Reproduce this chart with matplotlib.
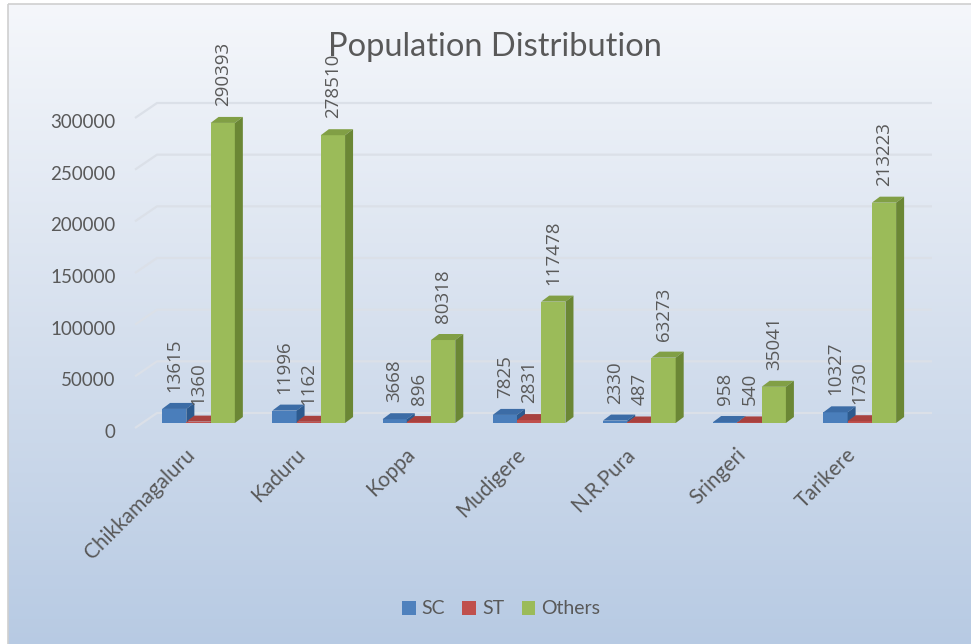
import numpy as np
import matplotlib
matplotlib.use("Agg")
import matplotlib.pyplot as plt
import matplotlib.transforms as mtransforms
from matplotlib.patches import Polygon, Rectangle
from matplotlib.colors import LinearSegmentedColormap

# ---------------------------------------------------------
# data
# ---------------------------------------------------------
taluks = ["Chikkamagaluru", "Kaduru", "Koppa", "Mudigere", "N.R.Pura", "Sringeri", "Tarikere"]
sc = [13615, 11996, 3668, 7825, 2330, 958, 10327]
st = [1360, 1162, 896, 2831, 487, 540, 1730]
others = [290393, 278510, 80318, 117478, 63273, 35041, 213223]
series_names = ["SC", "ST", "Others"]
y_ticks = [0, 50000, 100000, 150000, 200000, 250000, 300000]

# colours: front, top, side
front_cols = ["#4a7ebb", "#c0504d", "#9bbb59"]
top_cols = ["#3c6ca6", "#a8413e", "#819f45"]
side_cols = ["#2d5a8e", "#8c3431", "#6b8735"]
legend_cols = ["#4f81bd", "#c0504d", "#9bbb59"]
TXT = "#595959"

W, H = 971, 644
plt.rcParams['font.family'] = ['Lato', 'DejaVu Sans']

fig = plt.figure(figsize=(W / 100, H / 100), dpi=100)

# ---------------------------------------------------------
# background gradient + border
# ---------------------------------------------------------
bg = fig.add_axes([0, 0, 1, 1], zorder=-10)
bg.set_xlim(0, W)
bg.set_ylim(H, 0)
bg.axis('off')
cmap = LinearSegmentedColormap.from_list('bg', ['#f5f7fb', '#d6e0ee', '#b7cae3'])
grad = np.linspace(0, 1, 256).reshape(-1, 1)
bg.imshow(grad, aspect='auto', cmap=cmap, extent=[8, W + 5, H + 5, 4])
bg.add_patch(Rectangle((8, 4), W, H, fill=False, edgecolor='#cfcfcf', lw=1.2))

# ---------------------------------------------------------
# main axes (front plane)
# ---------------------------------------------------------
ax = fig.add_axes([135 / W, (H - 428) / H, 775 / W, 310 / H])
ax.set_xlim(-0.576, 6.456)
ax.set_ylim(0, 300000)
ax.patch.set_alpha(0)
for s in ax.spines.values():
    s.set_visible(False)

p0 = ax.transData.transform((0, 0))
p1 = ax.transData.transform((1, 100000))
sx = p1[0] - p0[0]
sy = (p1[1] - p0[1]) / 100000.0

x0, x1 = ax.get_xlim()

# back wall gridlines with side wall slant
wall_dx, wall_dy = 22 / sx, 15 / sy
for v in y_ticks:
    ax.plot([x0, x0 + wall_dx, x1 + wall_dx], [v, v + wall_dy, v + wall_dy],
            color='#dbe0e8', lw=1.6, zorder=1, clip_on=False, solid_capstyle='butt')

# bars (pseudo 3D)
bw = 0.22
lift = 5 / sy
ddx, ddy = 8 / sx, 6 / sy
series = [sc, st, others]
z = 2
for i in range(len(taluks)):
    for k, vals in enumerate(series):
        v = vals[i]
        xc = i + (k - 1) * bw
        xl, xr = xc - bw / 2, xc + bw / 2
        yb, yt = lift, lift + v
        ax.add_patch(Rectangle((xl, yb), bw, v, facecolor=front_cols[k],
                               edgecolor='none', zorder=z, clip_on=False))
        ax.add_patch(Polygon([(xl, yt), (xr, yt), (xr + ddx, yt + ddy), (xl + ddx, yt + ddy)],
                             closed=True, facecolor=top_cols[k], edgecolor='none',
                             zorder=z, clip_on=False))
        ax.add_patch(Polygon([(xr, yb), (xr, yt), (xr + ddx, yt + ddy), (xr + ddx, yb + ddy)],
                             closed=True, facecolor=side_cols[k], edgecolor='none',
                             zorder=z, clip_on=False))
        ax.text(xc, yt + 17 / sy, str(v), rotation=90, ha='center', va='bottom',
                fontsize=13.5, color=TXT, zorder=50, clip_on=False,
                family=['Open Sans', 'DejaVu Sans'])
        z += 1

# axes ticks
ax.set_yticks(y_ticks)
ax.set_yticklabels([str(v) for v in y_ticks])
ax.tick_params(axis='y', length=0, pad=14, labelsize=13.5, labelcolor=TXT)
down = mtransforms.ScaledTranslation(0, -3 / 100, fig.dpi_scale_trans)
for lab in ax.get_yticklabels():
    lab.set_transform(lab.get_transform() + down)

ax.set_xticks(range(len(taluks)))
ax.set_xticklabels(taluks, rotation=45, ha='right', va='center', rotation_mode='anchor')
ax.tick_params(axis='x', length=0, pad=17, labelsize=15, labelcolor=TXT)
left = mtransforms.ScaledTranslation(-7 / 100, 0, fig.dpi_scale_trans)
for lab in ax.get_xticklabels():
    lab.set_transform(lab.get_transform() + left)

# title
fig.text(495 / W, 1 - 47 / H, "Population Distribution", ha='center', va='center',
         fontsize=23.5, color=TXT)

# legend
handles = [Rectangle((0, 0), 1, 1, facecolor=c, edgecolor='none') for c in legend_cols]
fig.legend(handles, series_names, loc='center', bbox_to_anchor=(501 / W, 1 - 609 / H),
           ncol=3, frameon=False, fontsize=14, labelcolor=TXT,
           handlelength=0.7, handleheight=0.7, handletextpad=0.3, columnspacing=0.9)

fig.savefig("out.png", dpi=100)
